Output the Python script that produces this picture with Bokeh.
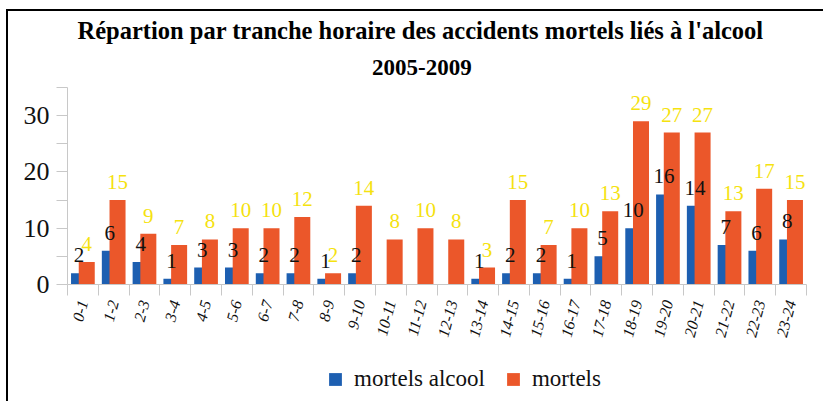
from bokeh.plotting import figure
from bokeh.layouts import column
from bokeh.models import (ColumnDataSource, Range1d, FixedTicker, LinearAxis, Title,
                          Legend, LegendItem)
from bokeh.transform import dodge
from bokeh.core.properties import value
from bokeh.embed import file_html
from bokeh.resources import INLINE

hours = ["0-1", "1-2", "2-3", "3-4", "4-5", "5-6", "6-7", "7-8", "8-9", "9-10",
         "10-11", "11-12", "12-13", "13-14", "14-15", "15-16", "16-17", "17-18",
         "18-19", "19-20", "20-21", "21-22", "22-23", "23-24"]
mortels_alcool = [2, 6, 4, 1, 3, 3, 2, 2, 1, 2, 0, 0, 0, 1, 2, 2, 1, 5, 10, 16, 14, 7, 6, 8]
mortels = [4, 15, 9, 7, 8, 10, 10, 12, 2, 14, 8, 10, 8, 3, 15, 7, 10, 13, 29, 27, 27, 13, 17, 15]
y_ticks = [0, 5, 10, 15, 20, 25, 30, 35]
y_tick_labels = ["0", "", "10", "", "20", "", "30", ""]

BLUE = "#1d5fb1"
ORANGE = "#eb572a"
YELLOW = "#f5e20f"
SERIF = "Liberation Serif"

centers = [i + 0.5 for i in range(len(hours))]
bounds = list(range(len(hours) + 1))

src = ColumnDataSource(dict(
    x=centers,
    alc=mortels_alcool,
    tot=mortels,
    alc_lbl=[str(v) if v else "" for v in mortels_alcool],
    tot_lbl=[str(v) if v else "" for v in mortels],
))

p = figure(width=815, height=350, x_range=Range1d(0, len(hours)), y_range=Range1d(0, 35),
           output_backend="svg", toolbar_location=None, x_axis_type=None, y_axis_type=None,
           title_location=None, min_border_left=59, min_border_right=17,
           min_border_top=76, min_border_bottom=77, outline_line_color=None)

yaxis = LinearAxis(ticker=FixedTicker(ticks=y_ticks, minor_ticks=[]),
                   major_label_overrides={t: l for t, l in zip(y_ticks, y_tick_labels)},
                   axis_line_color="#c8c8c8", major_tick_line_color="#c8c8c8",
                   major_tick_in=0, major_tick_out=11, minor_tick_line_color=None,
                   major_label_text_font=SERIF, major_label_text_font_size="26px",
                   major_label_text_color="#111111", major_label_standoff=7)
p.add_layout(yaxis, "left")

xaxis = LinearAxis(ticker=FixedTicker(ticks=centers, minor_ticks=bounds),
                   major_label_overrides={c: h for c, h in zip(centers, hours)},
                   axis_line_color="#c8c8c8", major_tick_line_color=None,
                   major_tick_in=0, major_tick_out=0,
                   minor_tick_line_color="#c8c8c8", minor_tick_in=0, minor_tick_out=11,
                   major_label_text_font=SERIF, major_label_text_font_size="16px",
                   major_label_text_font_style="italic", major_label_text_color="#111111",
                   major_label_orientation=1.31, major_label_standoff=5)
p.add_layout(xaxis, "below")

r1 = p.vbar(x=dodge("x", -0.125, range=p.x_range), top="alc", width=0.52, source=src,
            fill_color=BLUE, line_color=None)
r2 = p.vbar(x=dodge("x", 0.125, range=p.x_range), top="tot", width=0.52, source=src,
            fill_color=ORANGE, line_color=None)

p.text(x=dodge("x", -0.125, range=p.x_range), y="alc", text="alc_lbl", source=src,
       y_offset=-18, text_align="center", text_baseline="alphabetic",
       text_font=value(SERIF), text_font_size="21px", text_color="#111111")
p.text(x=dodge("x", 0.125, range=p.x_range), y="tot", text="tot_lbl", source=src,
       y_offset=-18, text_align="center", text_baseline="alphabetic",
       text_font=value(SERIF), text_font_size="21px", text_color=YELLOW)

t2 = Title(text="2005-2009", align="left", offset=304.5, text_font=SERIF,
           text_font_size="23px", text_font_style="bold", text_color="#000000", standoff=25)
t1 = Title(text="Répartion par tranche horaire des accidents mortels liés à l'alcool",
           align="left", offset=10, text_font=SERIF, text_font_size="24.5px",
           text_font_style="bold", text_color="#000000", standoff=3)
p.add_layout(t2, "above")
p.add_layout(t1, "above")

# legend strip (its renderers are hidden copies of the bar series)
pl = figure(width=815, height=40, x_range=Range1d(0, len(hours)), y_range=Range1d(0, 35),
            output_backend="svg", toolbar_location=None, x_axis_type=None, y_axis_type=None,
            title_location=None, min_border=0, outline_line_color=None)
l1 = pl.vbar(x="x", top="alc", width=0.52, source=src, fill_color=BLUE, line_color=None,
             visible=False)
l2 = pl.vbar(x="x", top="tot", width=0.52, source=src, fill_color=ORANGE, line_color=None,
             visible=False)
legend = Legend(items=[LegendItem(label="mortels alcool", renderers=[l1]),
                       LegendItem(label="mortels", renderers=[l2])],
                location=(260, 9), orientation="horizontal",
                glyph_width=16, glyph_height=16, label_standoff=11, spacing=20,
                padding=0, margin=0, border_line_color=None, background_fill_alpha=0,
                label_text_font=SERIF, label_text_font_size="23px",
                label_text_color="#111111", click_policy="none")
pl.add_layout(legend)

layout = column(p, pl, spacing=0,
                styles={"border-left": "2px solid black", "border-top": "2px solid black",
                        "margin-left": "6px", "margin-top": "9px"})

open("out.html", "w").write(file_html(layout, INLINE))
